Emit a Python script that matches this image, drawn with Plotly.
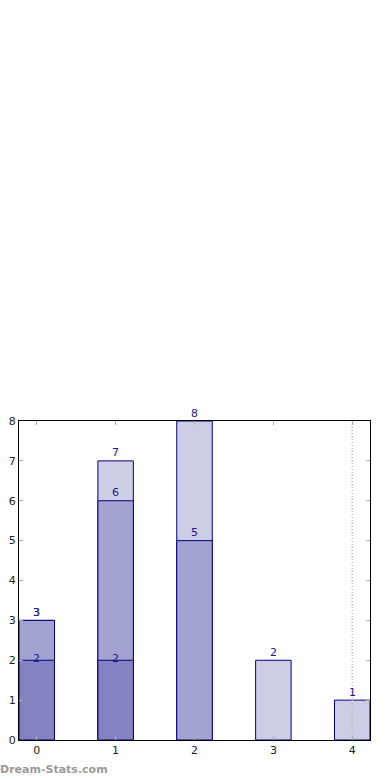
import plotly.graph_objects as go

categories = [0, 1, 2, 3, 4]
series_light = [3, 7, 8, 2, 1]
series_medium = [3, 6, 5, 0, 0]
series_dark = [2, 2, 0, 0, 0]
y_ticks = [0, 1, 2, 3, 4, 5, 6, 7, 8]
ref_line_x = 4

colors = {"light": "#cdcde6", "medium": "#a3a3d1", "dark": "#8383c1"}
edge = "#00007f"
label_color = "#1a1a8c"

fig = go.Figure()

def add_series(vals, color, shift):
    xs = [c for c, v in zip(categories, vals) if v]
    ys = [v for v in vals if v]
    fig.add_trace(go.Bar(x=xs, y=ys, width=0.45, marker=dict(color=color, line=dict(color=edge, width=1)),
                         hoverinfo="skip", showlegend=False))
    for x, y in zip(xs, ys):
        fig.add_annotation(x=x, y=y, text=str(y), showarrow=False, yanchor="middle", yshift=shift,
                           font=dict(family="DejaVu Sans", size=11, color=label_color))

add_series(series_light, colors["light"], 8)
add_series(series_medium, colors["medium"], 8)
add_series(series_dark, colors["dark"], 2)

fig.add_trace(go.Scatter(x=[ref_line_x, ref_line_x], y=[y_ticks[0], y_ticks[-1]], mode="lines",
                         line=dict(color="#b4b4b4", width=1.5, dash="1px,2px"), hoverinfo="skip", showlegend=False))

fig.add_annotation(xref="paper", yref="paper", x=0, y=-0.092, xshift=-21, xanchor="left", yanchor="middle",
                   text="<b>Dream-Stats.com</b>", showarrow=False,
                   font=dict(family="DejaVu Sans", size=11, color="#9a9a9a"))

fig.update_layout(
    width=390, height=780, barmode="overlay",
    margin=dict(l=19, r=20, t=421, b=40, autoexpand=False),
    paper_bgcolor="white", plot_bgcolor="white",
    font=dict(family="DejaVu Sans", size=11, color="#222222"),
)
fig.update_xaxes(range=[-0.225, 4.225], tickvals=categories, ticks="inside", ticklen=4, tickcolor="#aaaaaa",
                 showline=True, linecolor="black", linewidth=1, mirror="ticks", showgrid=False, zeroline=False,
                 fixedrange=True, automargin=False)
fig.update_yaxes(range=[0, 8], tickvals=y_ticks, ticks="inside", ticklen=4, tickcolor="#aaaaaa",
                 showline=True, linecolor="black", linewidth=1, mirror="ticks", showgrid=False, zeroline=False,
                 fixedrange=True, automargin=False)

fig.write_html("out.html", config={"displayModeBar": False},
               post_script="document.body.style.margin='0';document.body.style.overflow='hidden';")
